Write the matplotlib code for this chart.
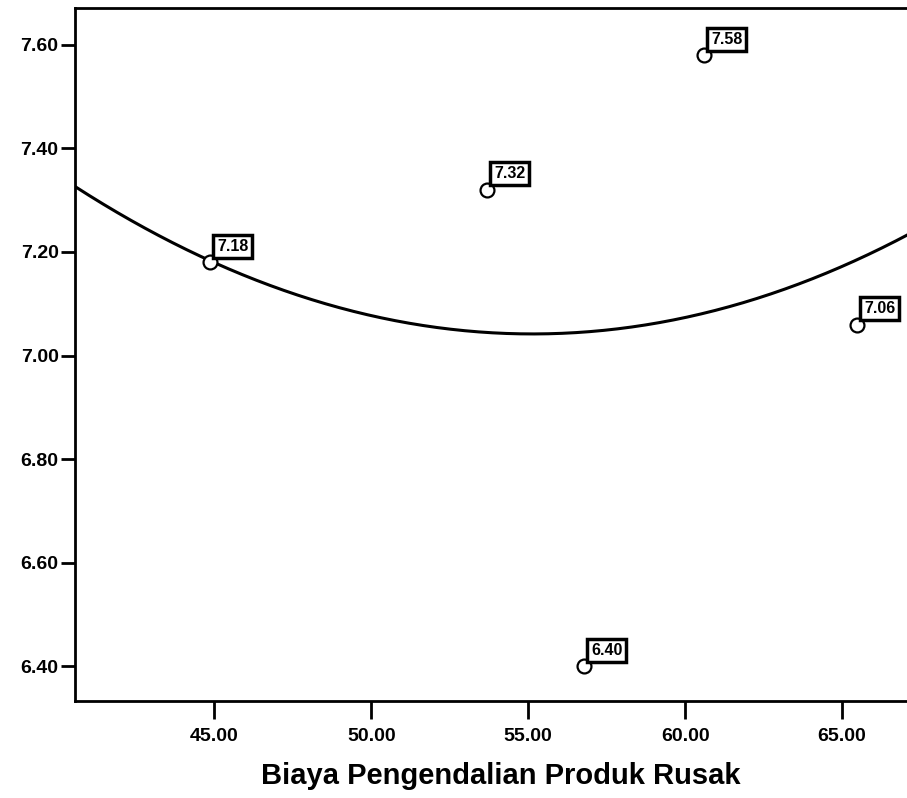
import numpy as np
import matplotlib.pyplot as plt

# data
biaya = [44.87, 53.69, 60.60, 56.78, 65.48]
nilai = [7.18, 7.32, 7.58, 6.40, 7.06]
label = ['7.18', '7.32', '7.58', '6.40', '7.06']
xticks = [45, 50, 55, 60, 65]
yticks = [6.40, 6.60, 6.80, 7.00, 7.20, 7.40, 7.60]

plt.rcParams['font.family'] = ['Liberation Sans', 'DejaVu Sans']

fig = plt.figure(figsize=(9.07, 7.98), dpi=100)
ax = fig.add_axes([0.083, 0.122, 0.917, 0.868])

# quadratic fit (curve estimation)
coef = np.polyfit(biaya, nilai, 2)
xs = np.linspace(40.57, 67.07, 300)
ax.plot(xs, np.polyval(coef, xs), color='black', lw=2.2, zorder=2)

ax.scatter(biaya, nilai, s=100, facecolors='white', edgecolors='black', linewidths=1.6, zorder=3)
for x, y, t in zip(biaya, nilai, label):
    ax.annotate(t, (x, y), xytext=(5, 6), textcoords='offset points',
                ha='left', va='bottom', fontsize=11.5, fontweight='bold',
                bbox=dict(boxstyle='square,pad=0.25', fc='white', ec='black', lw=2.5),
                zorder=4)

ax.set_xlim(40.57, 67.07)
ax.set_ylim(6.334, 7.671)
ax.set_xticks(xticks)
ax.set_xticklabels(['%.2f' % v for v in xticks])
ax.set_yticks(yticks)
ax.set_yticklabels(['%.2f' % v for v in yticks])
ax.tick_params(axis='x', length=13, width=2, labelsize=14, pad=7)
ax.tick_params(axis='y', length=10, width=2, labelsize=14, pad=2)
for lab in ax.get_xticklabels() + ax.get_yticklabels():
    lab.set_fontweight('bold')
ax.spines['right'].set_visible(False)
for s in ['left', 'bottom', 'top']:
    ax.spines[s].set_linewidth(2)

ax.set_xlabel('Biaya Pengendalian Produk Rusak', fontsize=21, fontweight='bold')
ax.xaxis.set_label_coords(0.512, -0.088)

fig.savefig('out.png', dpi=100)
